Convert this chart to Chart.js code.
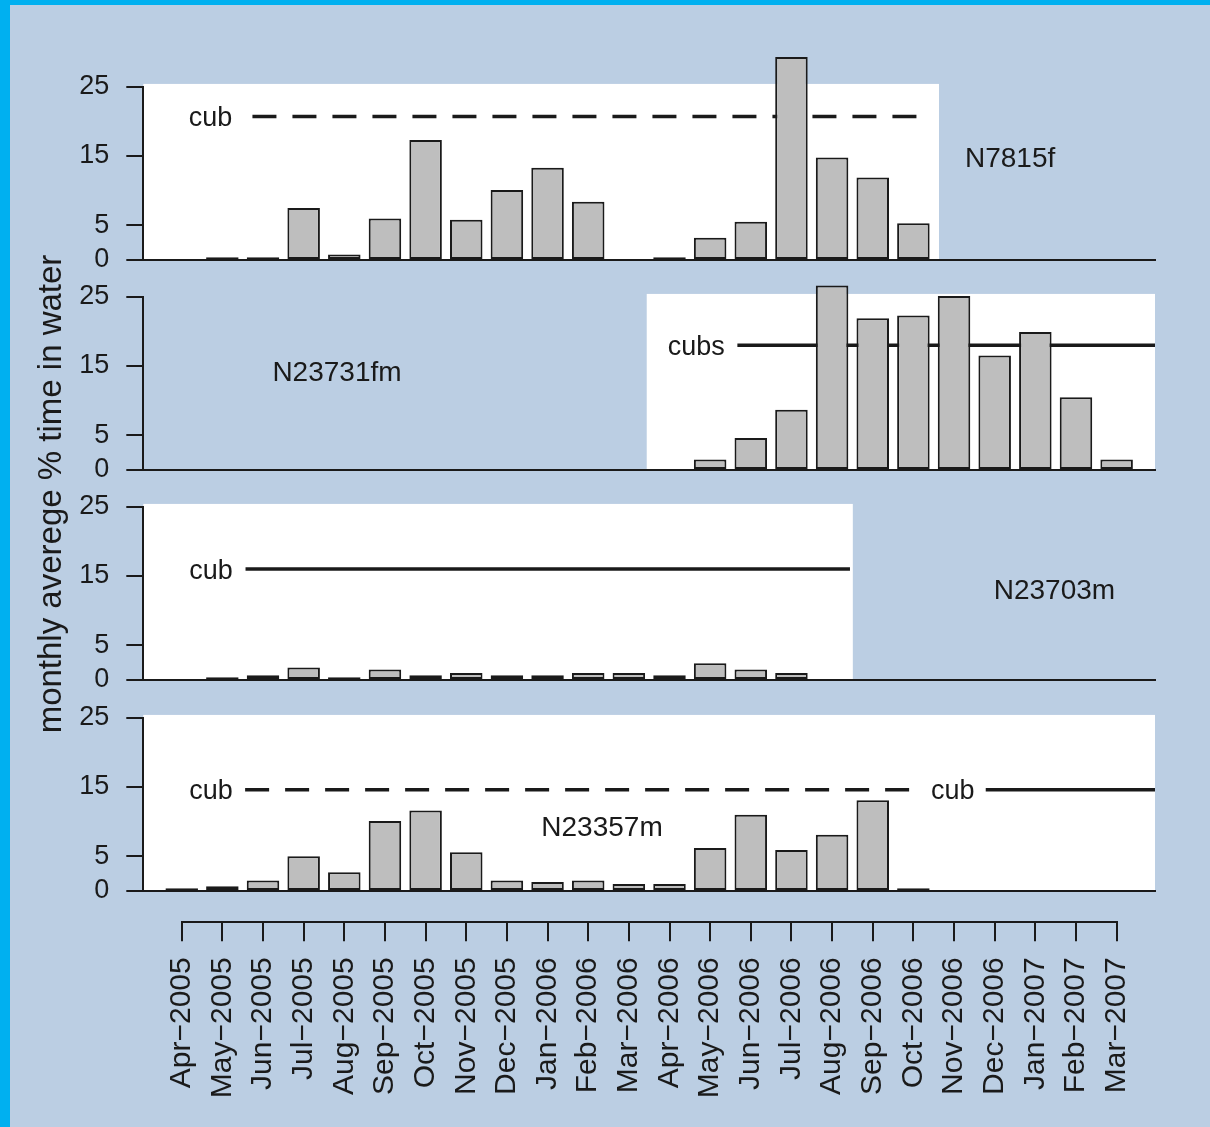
<!DOCTYPE html>
<html>
<head>
<meta charset="utf-8">
<script src="https://cdn.jsdelivr.net/npm/chart.js@4.4.1/dist/chart.umd.min.js"></script>
<style>
  html, body { margin: 0; padding: 0; }
  body { position: relative; width: 1210px; height: 1127px; overflow: hidden; background: #00b0f0; }
  #frame { position: absolute; left: 10px; top: 5px; width: 1200px; height: 1122px; background: #bbcee3; }
  canvas { position: absolute; left: 0; top: 0; }
</style>
</head>
<body>
<div id="frame"></div>
<canvas id="axisChart" width="1210" height="1127"></canvas>
<canvas id="panel0"></canvas>
<canvas id="panel1"></canvas>
<canvas id="panel2"></canvas>
<canvas id="panel3"></canvas>
<script>
// ---------- Data ----------
const months = ['Apr−2005', 'May−2005', 'Jun−2005', 'Jul−2005', 'Aug−2005', 'Sep−2005',
    'Oct−2005', 'Nov−2005', 'Dec−2005', 'Jan−2006', 'Feb−2006', 'Mar−2006',
    'Apr−2006', 'May−2006', 'Jun−2006', 'Jul−2006', 'Aug−2006', 'Sep−2006',
    'Oct−2006', 'Nov−2006', 'Dec−2006', 'Jan−2007', 'Feb−2007', 'Mar−2007'];

const bearIds = ['N7815f', 'N23731fm', 'N23703m', 'N23357m'];

// monthly average % time in water (null = no data that month)
const n7815f = [null, 0.4, 0.4, 7.5, 0.8, 6.0, 17.3, 5.8, 10.1, 13.3, 8.4, null,
    0.4, 3.2, 5.5, 29.3, 14.8, 11.9, 5.3, null, null, null, null, null];
const n23731fm = [null, null, null, null, null, null, null, null, null, null, null, null,
    null, 1.5, 4.6, 8.7, 26.6, 21.9, 22.3, 25.1, 16.5, 19.9, 10.5, 1.5];
const n23703m = [null, 0.4, 0.7, 1.8, 0.4, 1.5, 0.7, 1.0, 0.7, 0.7, 1.0, 1.0,
    0.7, 2.4, 1.5, 1.0, null, null, null, null, null, null, null, null];
const n23357m = [0.4, 0.7, 1.5, 5.0, 2.7, 10.1, 11.6, 5.6, 1.5, 1.3, 1.5, 1.0,
    1.0, 6.2, 11.0, 5.9, 8.1, 13.1, 0.4, null, null, null, null, null];
const series = [n7815f, n23731fm, n23703m, n23357m];

const yTicks = [0, 5, 15, 25];

// tracked period (white area), in month index units
const X_MIN = -0.945, X_MAX = 23.944;
const coverFrom = [X_MIN, 11.44, X_MIN, X_MIN];
const coverTo = [18.63, X_MAX, 16.51, X_MAX];

// cub periods
const cubPanel = [0, 1, 2, 3, 3];
const cubFrom = [1.74, 13.67, 1.57, 1.56, 19.78];
const cubTo = [18.16, X_MAX, 16.44, 17.9, X_MAX];
const cubLevel = [20.7, 18.0, 16.0, 14.6, 14.6];
const cubLabel = ['cub', 'cubs', 'cub', 'cub', 'cub'];

// ---------- Layout / style ----------
const INK = '#1a1a1a';
const FONT = "'Liberation Sans', Arial, Helvetica, sans-serif";
const PANEL_ZERO = [260, 470.2, 680.4, 890.6];   // px of y = 0
const PANEL_SPAN = 173.3;                        // px from 0 to 25
const cubDash = [[24, 16], [], [], [24, 16], []];
const cubTextX = [0.71, 12.66, 0.72, 0.72, 18.97];
const idTextX = [20.38, 3.82, 21.47, 10.34];
const idTextY = [14.5, 13.9, 12.75, 9.0];

// ---------- Plugins ----------
const coverPlugin = {
    id: 'cover',
    beforeDraw(chart, args, opts) {
        const { ctx, scales: { x, y } } = chart;
        const l = x.getPixelForValue(opts.from), r = x.getPixelForValue(opts.to);
        const t = y.getPixelForValue(25.4), b = y.getPixelForValue(0);
        ctx.save();
        ctx.fillStyle = '#ffffff';
        ctx.fillRect(l, t, r - l, b - t);
        ctx.restore();
    }
};

const notesPlugin = {
    id: 'notes',
    afterDatasetsDraw(chart, args, opts) {
        const { ctx, scales: { x, y } } = chart;
        ctx.save();
        ctx.fillStyle = INK;
        ctx.textAlign = 'center';
        ctx.textBaseline = 'middle';
        opts.items.forEach(n => {
            ctx.font = n.size + 'px ' + FONT;
            ctx.fillText(n.text, x.getPixelForValue(n.x), y.getPixelForValue(n.y) + (n.dy || 0));
        });
        ctx.restore();
    }
};

const yTitlePlugin = {
    id: 'yTitle',
    afterDraw(chart) {
        const ctx = chart.ctx;
        ctx.save();
        ctx.translate(61, 494);
        ctx.rotate(-Math.PI / 2);
        ctx.fillStyle = INK;
        ctx.font = '33px ' + FONT;
        ctx.textAlign = 'center';
        ctx.textBaseline = 'alphabetic';
        ctx.fillText('monthly averege % time in water', 0, 0);
        ctx.restore();
    }
};

// ---------- Panels ----------
function makePanel(i) {
    const canvas = document.getElementById('panel' + i);
    canvas.width = 1210;
    canvas.height = 244;
    canvas.style.top = (PANEL_ZERO[i] - 208) + 'px';

    const bars = series[i].map((v, k) => v == null ? null : { x: k, y: v }).filter(p => p);
    const datasets = [{
        type: 'bar',
        data: bars,
        backgroundColor: '#bebebe',
        borderColor: INK,
        borderWidth: 2,
        borderSkipped: false,
        barPercentage: 0.8,
        categoryPercentage: 1,
        clip: false,
        order: 0
    }];
    const notes = [{ text: bearIds[i], x: idTextX[i], y: idTextY[i], size: 28 }];

    cubPanel.forEach((p, c) => {
        if (p !== i) return;
        datasets.push({
            type: 'line',
            data: [{ x: cubFrom[c], y: cubLevel[c] }, { x: cubTo[c], y: cubLevel[c] }],
            borderColor: INK,
            borderWidth: 3.5,
            borderDash: cubDash[c],
            pointRadius: 0,
            fill: false,
            clip: false,
            order: 1
        });
        notes.push({ text: cubLabel[c], x: cubTextX[c], y: cubLevel[c], size: 27, dy: 2 });
    });

    new Chart(canvas, {
        type: 'bar',
        data: { datasets },
        options: {
            responsive: false,
            animation: false,
            events: [],
            layout: { padding: { left: 0, right: 55, top: 208 - PANEL_SPAN, bottom: 36 } },
            plugins: {
                legend: { display: false },
                tooltip: { enabled: false },
                cover: { from: coverFrom[i], to: coverTo[i] },
                notes: { items: notes }
            },
            scales: {
                x: {
                    type: 'linear',
                    offset: false,
                    min: X_MIN,
                    max: X_MAX,
                    grid: { display: false, offset: false },
                    border: { display: true, color: INK, width: 2 },
                    ticks: { display: false },
                    afterBuildTicks: s => { s.ticks = months.map((m, k) => ({ value: k })); },
                    afterFit: s => { s.height = 0; }
                },
                y: {
                    min: 0,
                    max: 25,
                    grid: { drawOnChartArea: false, drawTicks: true, tickLength: 17, color: INK, lineWidth: 2 },
                    border: { display: true, color: INK, width: 2 },
                    ticks: { padding: 17, color: INK, font: { family: FONT, size: 27 } },
                    afterBuildTicks: s => { s.ticks = yTicks.map(v => ({ value: v })); },
                    afterFit: s => { s.width = 143.3; }
                }
            }
        },
        plugins: [coverPlugin, notesPlugin]
    });
}

// ---------- Shared month axis + y title ----------
new Chart(document.getElementById('axisChart'), {
    type: 'bar',
    data: { labels: months, datasets: [] },
    options: {
        responsive: false,
        animation: false,
        events: [],
        layout: { padding: { left: 181.7, right: 1210 - 1116.7, top: 880, bottom: 0 } },
        plugins: { legend: { display: false }, tooltip: { enabled: false } },
        scales: {
            x: {
                type: 'category',
                offset: false,
                grid: { offset: false, drawOnChartArea: false, drawTicks: true, tickLength: 19, color: INK, lineWidth: 2 },
                border: { display: true, color: INK, width: 2 },
                ticks: {
                    autoSkip: false, maxRotation: 90, minRotation: 90, padding: 16,
                    color: INK, font: { family: FONT, size: 30 }
                },
                afterFit: s => { s.height = 1127 - 922.3; }
            },
            y: { display: false }
        }
    },
    plugins: [yTitlePlugin]
});

[0, 1, 2, 3].forEach(makePanel);
</script>
</body>
</html>
